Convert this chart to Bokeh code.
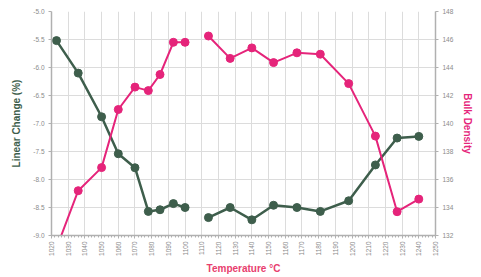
import math
from bokeh.plotting import figure
from bokeh.models import Range1d, LinearAxis, FixedTicker, CustomJSTickFormatter
from bokeh.embed import file_html
from bokeh.resources import INLINE

# Data
temps = [1023, 1036, 1050, 1060, 1070, 1078, 1085, 1093, 1100,
         1114, 1127, 1140, 1153, 1167, 1181, 1198, 1214, 1227, 1240]
linear_change = [-5.52, -6.10, -6.88, -7.54, -7.79, -8.57, -8.54, -8.43, -8.50,
                 -8.68, -8.50, -8.72, -8.46, -8.50, -8.57, -8.38, -7.74, -7.26, -7.23]
bulk_density = [131.1, 135.2, 136.85, 141.0, 142.6, 142.35, 143.5, 145.8, 145.8,
                146.25, 144.65, 145.4, 144.35, 145.05, 144.95, 142.85, 139.1, 133.7, 134.6]
runs = [(0, 9), (9, 19)]  # the line is broken between 1100 and 1114

x_ticks = list(range(1020, 1251, 10))
left_ticks = [-5.0, -5.5, -6.0, -6.5, -7.0, -7.5, -8.0, -8.5, -9.0]
right_ticks = [132, 134, 136, 138, 140, 142, 144, 146, 148]

GREEN = "#3e5e4c"
PINK = "#e5247a"
TITLE_PINK = "#e8406e"
FONT = "Liberation Sans"
TICK_COLOR = "#8a8a8a"

p = figure(width=476, height=276, output_backend="svg", toolbar_location=None,
           x_range=Range1d(1020, 1250), y_range=Range1d(-9.0, -5.0),
           min_border_left=51, min_border_right=34, min_border_top=11, min_border_bottom=38)
p.extra_y_ranges = {"bd": Range1d(132, 148)}
p.outline_line_color = None
p.background_fill_color = "white"
p.border_fill_color = "white"

# axes
p.xaxis.ticker = FixedTicker(ticks=x_ticks, minor_ticks=list(range(1020, 1251, 2)))
p.yaxis.ticker = FixedTicker(ticks=left_ticks)
p.yaxis.formatter = CustomJSTickFormatter(code="return tick.toFixed(1);")

right = LinearAxis(y_range_name="bd", ticker=FixedTicker(ticks=right_ticks))
p.add_layout(right, "right")

for ax in [p.xaxis[0], p.yaxis[0], right]:
    ax.axis_line_color = "#b0b0b0"
    ax.axis_line_width = 1.5
    ax.major_tick_line_color = "#b0b0b0"
    ax.minor_tick_line_color = "#b0b0b0"
    ax.major_tick_out = 3
    ax.major_tick_in = 0
    ax.minor_tick_out = 2
    ax.minor_tick_in = 0
    ax.major_label_text_font = FONT
    ax.major_label_text_font_size = "6.5px"
    ax.major_label_text_color = TICK_COLOR
    ax.axis_label_text_font = FONT
    ax.axis_label_text_font_style = "bold"
    ax.axis_label_text_font_size = "10px"

p.yaxis[0].minor_tick_line_color = None
right.minor_tick_line_color = None
p.xaxis.major_label_orientation = math.pi / 2
p.xaxis.major_label_standoff = 3
p.xaxis.axis_label = "Temperature °C"
p.xaxis.axis_label_text_color = TITLE_PINK
p.xaxis.axis_label_standoff = 4
p.yaxis[0].axis_label = "Linear Change (%)"
p.yaxis[0].axis_label_text_color = GREEN
p.yaxis[0].axis_label_standoff = 8
p.yaxis[0].major_label_standoff = 4
right.axis_label = "Bulk Density"
right.axis_label_text_color = PINK
right.axis_label_standoff = 6
right.major_label_standoff = 4

# grid
p.xgrid.ticker = FixedTicker(ticks=x_ticks)
p.ygrid.ticker = FixedTicker(ticks=left_ticks)
p.xgrid.grid_line_color = "#dcdcdc"
p.ygrid.grid_line_color = "#dcdcdc"

for a, b in runs:
    xs = temps[a:b]
    p.line(xs, linear_change[a:b], line_color=GREEN, line_width=2.5)
    p.scatter(xs, linear_change[a:b], size=8, fill_color=GREEN, line_color=GREEN)
    p.line(xs, bulk_density[a:b], line_color=PINK, line_width=2, y_range_name="bd")
    p.scatter(xs, bulk_density[a:b], size=8, fill_color=PINK, line_color=PINK, y_range_name="bd")

open("out.html", "w").write(file_html(p, INLINE))
